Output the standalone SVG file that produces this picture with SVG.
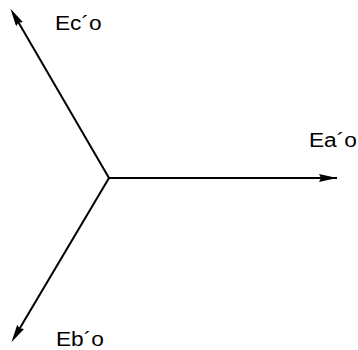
<svg xmlns="http://www.w3.org/2000/svg" width="358" height="350" viewBox="0 0 358 350">
<style>
.ln{stroke:#000;stroke-width:2;fill:none}
.a1{marker-end:url(#ah)}
.a2{marker-end:url(#ah2)}
.lb{font-family:"Liberation Sans",Arial,sans-serif;font-size:21px;fill:#000}
</style>
<defs>
<marker id="ah" markerUnits="userSpaceOnUse" markerWidth="20" markerHeight="10" refX="18" refY="4" orient="auto">
<path d="M0,0 L18,4 L0,8 L2,4 Z" fill="#000"/>
</marker>
<marker id="ah2" markerUnits="userSpaceOnUse" markerWidth="20" markerHeight="10" refX="13" refY="4" orient="auto">
<path d="M0,0 L18,4 L0,8 L2,4 Z" fill="#000"/>
</marker>
</defs>
<rect width="358" height="350" fill="#fff"/>
<g id="connectors">
<line class="ln a1" x1="109" y1="178" x2="337" y2="178"/>
<line class="ln a2" x1="109" y1="178" x2="13" y2="13"/>
<line class="ln a2" x1="109" y1="178" x2="14" y2="338"/>
</g>
<g id="Ea"><text class="lb" transform="translate(309,147) scale(1.08,1)">Ea´o</text></g>
<g id="Ec"><text class="lb" transform="translate(55,30) scale(1.08,1)">Ec´o</text></g>
<g id="Eb"><text class="lb" transform="translate(56,346) scale(1.08,1)">Eb´o</text></g>
</svg>
